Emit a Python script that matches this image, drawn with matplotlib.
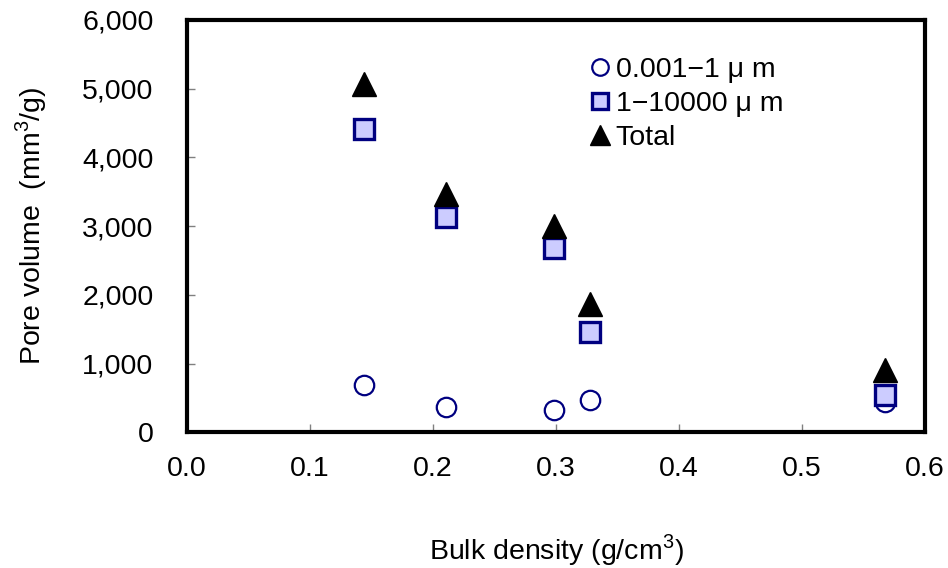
import matplotlib
matplotlib.use("Agg")
import matplotlib.pyplot as plt
from matplotlib.ticker import FuncFormatter

plt.rcParams['font.family'] = ['Liberation Sans', 'DejaVu Sans']
plt.rcParams['mathtext.fontset'] = 'custom'
plt.rcParams['mathtext.rm'] = 'Liberation Sans'

# data
density = [0.144, 0.211, 0.298, 0.328, 0.567]
small_pores = [692, 364, 328, 473, 437]      # 0.001-1 um
large_pores = [4412, 3138, 2687, 1463, 539]  # 1-10000 um
total = [5068, 3466, 3007, 1871, 910]

fig = plt.figure(figsize=(9.48, 5.68), dpi=100)
ax = fig.add_axes([0.197, 0.239, 0.779, 0.726])

ax.plot(density, small_pores, 'o', ms=14, mfc='white', mec='#000080', mew=1.6,
        label='0.001\u22121 \u03bc m', zorder=3)
ax.plot(density, large_pores, 's', ms=14, mfc='#CCCCFF', mec='#000080', mew=2.4,
        label='1\u221210000 \u03bc m', zorder=4)
ax.plot(density, total, '^', ms=17.5, color='black', label='Total', zorder=5)

ax.set_xlim(0, 0.6)
ax.set_ylim(0, 6000)
ax.set_xticks([0.0, 0.1, 0.2, 0.3, 0.4, 0.5, 0.6])
ax.set_yticks(range(0, 6001, 1000))
ax.xaxis.set_major_formatter(FuncFormatter(lambda v, p: f"{v:.1f}"))
ax.yaxis.set_major_formatter(FuncFormatter(lambda v, p: f"{int(v):,}"))

for s in ax.spines.values():
    s.set_linewidth(3)
ax.tick_params(direction='in', length=6, width=1, color='#808080', labelsize=20.5)
ax.tick_params(axis='x', pad=17)
ax.tick_params(axis='y', pad=24)

ax.set_xlabel('Bulk density (g/cm$^3$)', fontsize=20.5, labelpad=36)
ax.set_ylabel('Pore volume  (mm$^3$/g)', fontsize=20.5, labelpad=24)

ax.legend(loc='upper left', bbox_to_anchor=(0.603, 0.925), bbox_transform=fig.transFigure,
          frameon=False, fontsize=20.5, handletextpad=0.05, labelspacing=0.28,
          handlelength=1.0, borderpad=0, markerscale=0.85)

fig.savefig('out.png', dpi=100)
